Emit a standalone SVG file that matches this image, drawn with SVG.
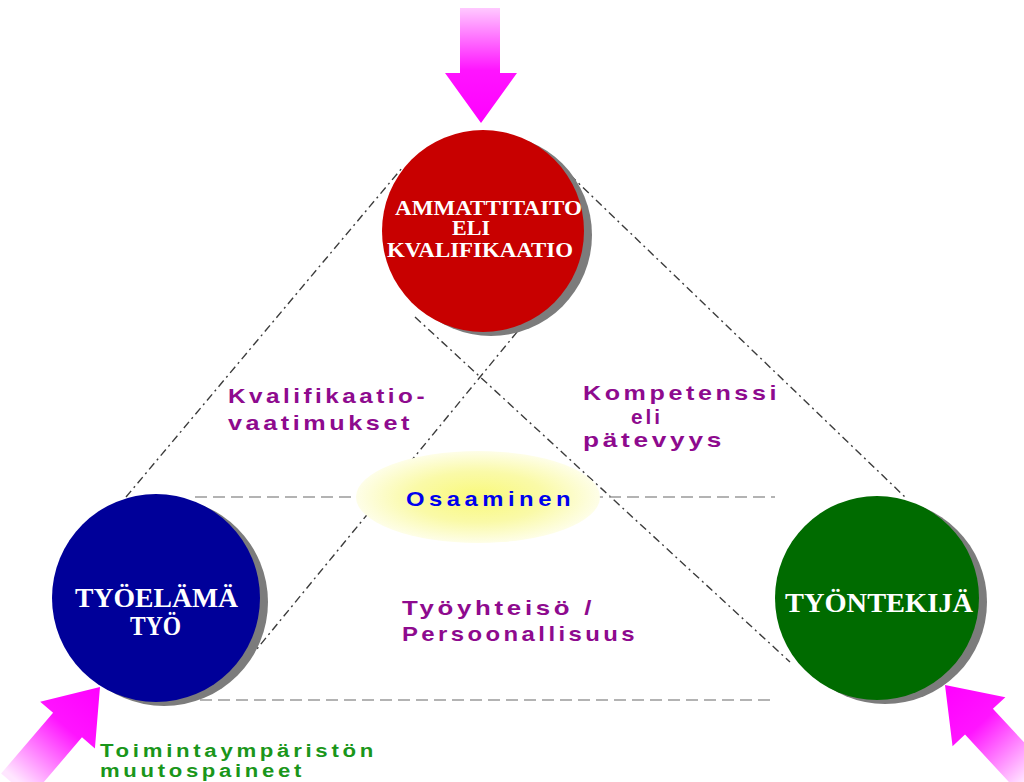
<svg xmlns="http://www.w3.org/2000/svg" width="1024" height="782" viewBox="0 0 1024 782">
<defs>
<style>
.dl{stroke:#3c3c3c;stroke-width:1.4;stroke-dasharray:8 4 2 4;fill:none}
.hl{stroke:#9a9a9a;stroke-width:1.6;stroke-dasharray:12 6;fill:none}
.shadow{fill:#7c7c7c}
.ct{font-family:"Liberation Serif","DejaVu Serif",serif;font-weight:bold;fill:#fff}
.pt{font-family:"Liberation Sans",Arial,sans-serif;font-weight:bold;fill:#8e0a8e;font-size:21px;letter-spacing:3px}
.gt{font-family:"Liberation Sans",Arial,sans-serif;font-weight:bold;fill:#1a961a;font-size:18px;letter-spacing:3px}
.arrow{fill:url(#ag)}
</style>
<linearGradient id="ag" gradientUnits="userSpaceOnUse" x1="0" y1="0" x2="0" y2="-125">
<stop offset="0" stop-color="#ff00ff"/>
<stop offset="0.42" stop-color="#ff14ff"/>
<stop offset="1" stop-color="#ffe6ff"/>
</linearGradient>
<radialGradient id="yg" cx="0.5" cy="0.5" r="0.5">
<stop offset="0" stop-color="#f9f97a"/>
<stop offset="0.55" stop-color="#fafaa8"/>
<stop offset="1" stop-color="#fefee8"/>
</radialGradient>
<polygon id="arr" points="0,0 -36,-50 -19,-50 -19,-130 19,-130 19,-50 36,-50"/>
<polygon id="arrTop" points="0,0 -36,-50 -21,-50 -21,-115 19,-115 19,-50 36,-50"/>
</defs>
<rect width="1024" height="782" fill="#fff"/>

<g id="connectors">
<line class="dl" x1="126" y1="497" x2="402" y2="168"/>
<line class="dl" x1="570" y1="175" x2="905" y2="497"/>
<line class="dl" x1="540" y1="304" x2="256" y2="650"/>
<line class="dl" x1="415" y1="317" x2="790" y2="662"/>
<line class="hl" x1="195" y1="497" x2="775" y2="497"/>
<line class="hl" x1="200" y1="700" x2="775" y2="700"/>
</g>

<g id="osaaminen">
<ellipse cx="478" cy="497" rx="122" ry="46" fill="url(#yg)"/>
<text x="406" y="506" font-family="Liberation Sans,Arial,sans-serif" font-weight="bold" font-size="21" letter-spacing="4" fill="#0000ee" textLength="169" lengthAdjust="spacingAndGlyphs">Osaaminen</text>
</g>

<g id="ammattitaito">
<circle class="shadow" cx="491" cy="235" r="101"/>
<circle cx="483" cy="231" r="101" fill="#c80000"/>
<text class="ct" x="395" y="215" font-size="20" textLength="187" lengthAdjust="spacingAndGlyphs">AMMATTITAITO</text>
<text class="ct" x="452" y="235" font-size="20" textLength="38" lengthAdjust="spacingAndGlyphs">ELI</text>
<text class="ct" x="387" y="257" font-size="20" textLength="186" lengthAdjust="spacingAndGlyphs">KVALIFIKAATIO</text>
</g>

<g id="tyoelama">
<circle class="shadow" cx="164" cy="602" r="104"/>
<circle cx="156" cy="598" r="104" fill="#000099"/>
<text class="ct" x="75" y="607" font-size="27" textLength="163" lengthAdjust="spacingAndGlyphs">TYÖELÄMÄ</text>
<text class="ct" x="130" y="635" font-size="27" textLength="51" lengthAdjust="spacingAndGlyphs">TYÖ</text>
</g>

<g id="tyontekija">
<circle class="shadow" cx="885" cy="602" r="102"/>
<circle cx="877" cy="598" r="102" fill="#006b00"/>
<text class="ct" x="785" y="612" font-size="27" textLength="188" lengthAdjust="spacingAndGlyphs">TYÖNTEKIJÄ</text>
</g>

<g id="labels">
<text class="pt" x="228" y="403" textLength="200" lengthAdjust="spacingAndGlyphs">Kvalifikaatio-</text>
<text class="pt" x="228" y="430" textLength="185" lengthAdjust="spacingAndGlyphs">vaatimukset</text>
<text class="pt" x="583" y="400" textLength="197" lengthAdjust="spacingAndGlyphs">Kompetenssi</text>
<text class="pt" x="631" y="424" letter-spacing="2" textLength="32" lengthAdjust="spacingAndGlyphs">eli</text>
<text class="pt" x="583" y="447" textLength="142" lengthAdjust="spacingAndGlyphs">pätevyys</text>
<text class="pt" x="402" y="615" textLength="193" lengthAdjust="spacingAndGlyphs">Työyhteisö /</text>
<text class="pt" x="402" y="641" textLength="236" lengthAdjust="spacingAndGlyphs">Persoonallisuus</text>
<text class="gt" x="100" y="757" textLength="277" lengthAdjust="spacingAndGlyphs">Toimintaympäristön</text>
<text class="gt" x="100" y="777" textLength="205" lengthAdjust="spacingAndGlyphs">muutospaineet</text>
</g>

<g id="arrows">
<use href="#arrTop" class="arrow" transform="translate(481,123)"/>
<use href="#arr" class="arrow" transform="translate(100,687) rotate(-139.5)"/>
<use href="#arr" class="arrow" transform="translate(945,685) rotate(137.2)"/>
</g>
</svg>
